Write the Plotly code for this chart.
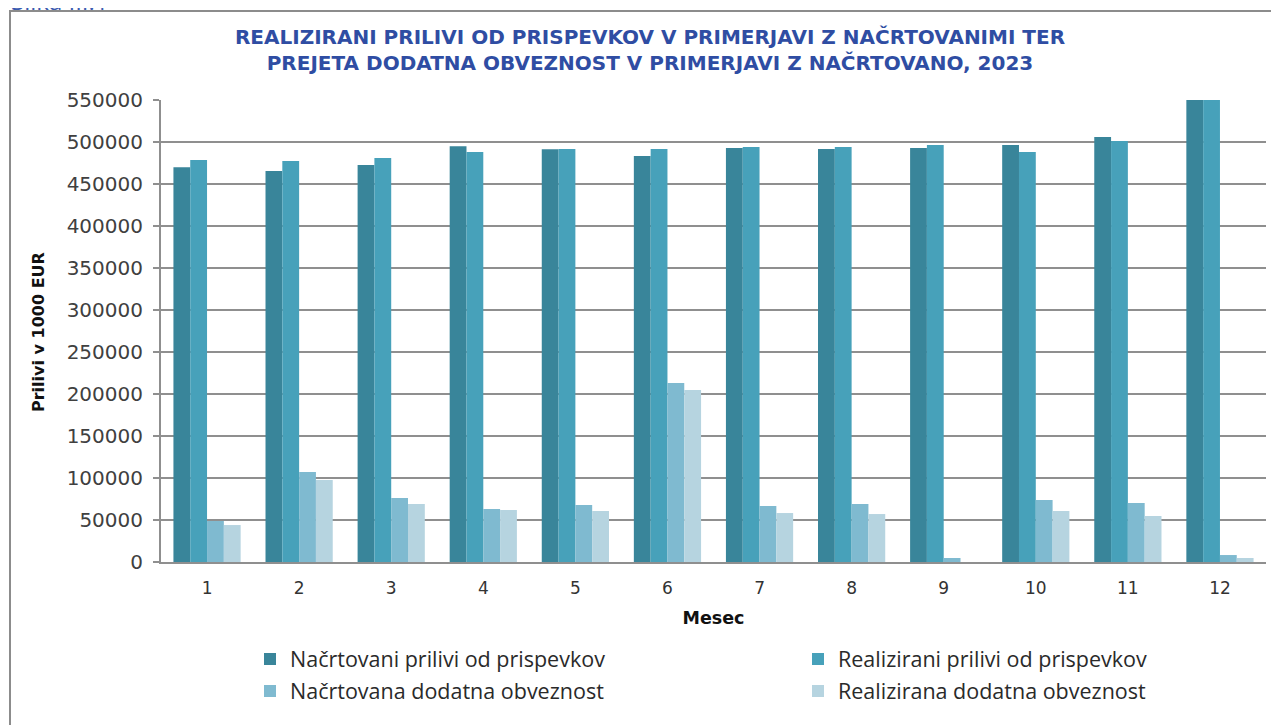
import plotly.graph_objects as go

months = ["1", "2", "3", "4", "5", "6", "7", "8", "9", "10", "11", "12"]
planned_inflows = [470000, 465500, 472500, 495000, 491500, 483300, 492900, 491700, 492900, 496400, 506000, 640000]
realized_inflows = [478500, 477400, 481000, 488100, 491700, 491700, 494000, 494000, 496400, 488100, 501200, 650000]
planned_extra = [48800, 107100, 76200, 63100, 67900, 213100, 66700, 69000, 4800, 73800, 70200, 8300]
realized_extra = [44000, 97600, 69000, 61900, 60700, 204800, 58300, 57100, 0, 60700, 54800, 4800]

names = ["Načrtovani prilivi od prispevkov", "Realizirani prilivi od prispevkov",
         "Načrtovana dodatna obveznost", "Realizirana dodatna obveznost"]
colors = ["#39859A", "#47A1BA", "#7FBAD0", "#B6D4E0"]
series = [planned_inflows, realized_inflows, planned_extra, realized_extra]
legends = ["legend", "legend2", "legend3", "legend4"]

fig = go.Figure()
for nm, col, vals, lg in zip(names, colors, series, legends):
    fig.add_trace(go.Bar(x=months, y=vals, name=nm, marker_color=col,
                         marker_line_width=0, legend=lg))

W, H = 1279, 725
OFF = 8  # page body margin
# plot area in screen pixels: x 161..1266, y 100..562 -> figure pixels minus OFF
L, R, T, B = 161 - OFF, 1266 - OFF, 100 - OFF, 562 - OFF
def px(xs):
    return (xs - OFF - L) / (R - L)
def py(ys):
    return (B - (ys - OFF)) / (B - T)
def cx(xs):
    return (xs - OFF) / W
def cy(ys):
    return 1 - (ys - OFF) / H

leg_font = dict(family="Open Sans", size=21.5, color="#2A2A2A")
def leg(text_x, text_y):
    # legend text starts ~48px right of the legend box left (screen)
    return dict(xref="container", yref="container", x=(text_x - 48) / W, xanchor="left",
                y=cy(text_y), yanchor="middle", font=leg_font, itemwidth=30,
                bgcolor="rgba(0,0,0,0)", borderwidth=0)

fig.update_layout(
    width=W, height=H,
    margin=dict(l=L, r=W - R, t=T, b=H - B, autoexpand=False),
    paper_bgcolor="white", plot_bgcolor="white",
    barmode="group", bargap=0.27, bargroupgap=0,
    title=dict(text="REALIZIRANI PRILIVI OD PRISPEVKOV V PRIMERJAVI Z NAČRTOVANIMI TER<br>PREJETA DODATNA OBVEZNOST V PRIMERJAVI Z NAČRTOVANO, 2023",
               x=cx(650), xanchor="center", xref="container", y=cy(44), yanchor="top",
               font=dict(family="DejaVu Sans", size=20, color="#2F4DA3", weight="bold")),
    font=dict(family="Liberation Sans", color="#333333"),
    showlegend=True,
    legend=leg(290, 659),
    legend2=leg(838, 659),
    legend3=leg(290, 691),
    legend4=leg(838, 691),
)

fig.update_yaxes(range=[0, 550000], tick0=0, dtick=50000, tickformat="d",
                 showgrid=True, gridcolor="#8F8F8F", gridwidth=2,
                 showline=True, linecolor="#8F8F8F", linewidth=2,
                 ticks="outside", ticklen=6, tickcolor="#8F8F8F", tickwidth=2,
                 ticklabelstandoff=6, automargin=False,
                 tickfont=dict(family="DejaVu Sans", size=20, color="#404040"),
                 zeroline=False, fixedrange=True)
fig.update_xaxes(type="category", showline=True, linecolor="#8F8F8F", linewidth=2,
                 ticks="", ticklabelstandoff=10, automargin=False,
                 tickfont=dict(family="DejaVu Sans", size=17, color="#333333"),
                 title=dict(text="Mesec", standoff=14,
                            font=dict(family="DejaVu Sans", size=17.5, color="#111111", weight="bold")),
                 fixedrange=True)

# y-axis title as rotated annotation
fig.add_annotation(text="Prilivi v 1000 EUR", textangle=-90, xref="paper", yref="paper",
                   x=px(38), y=py(332), xanchor="center", yanchor="middle", showarrow=False,
                   font=dict(family="DejaVu Sans", size=16, color="#111111", weight="bold"))

# outer frame (extends past right and bottom edges)
fig.add_shape(type="rect", xref="paper", yref="paper",
              x0=px(10), x1=px(1300), y0=py(760), y1=py(11),
              line=dict(color="#8C8C8C", width=2), fillcolor="rgba(0,0,0,0)", layer="below")

fig.add_annotation(text="Slika III.1", xref="paper", yref="paper",
                   x=px(9), xanchor="left", y=py(19), yanchor="bottom",
                   showarrow=False, font=dict(family="Open Sans", size=24, color="#3A5AB0"))

fig.write_html("out.html")
